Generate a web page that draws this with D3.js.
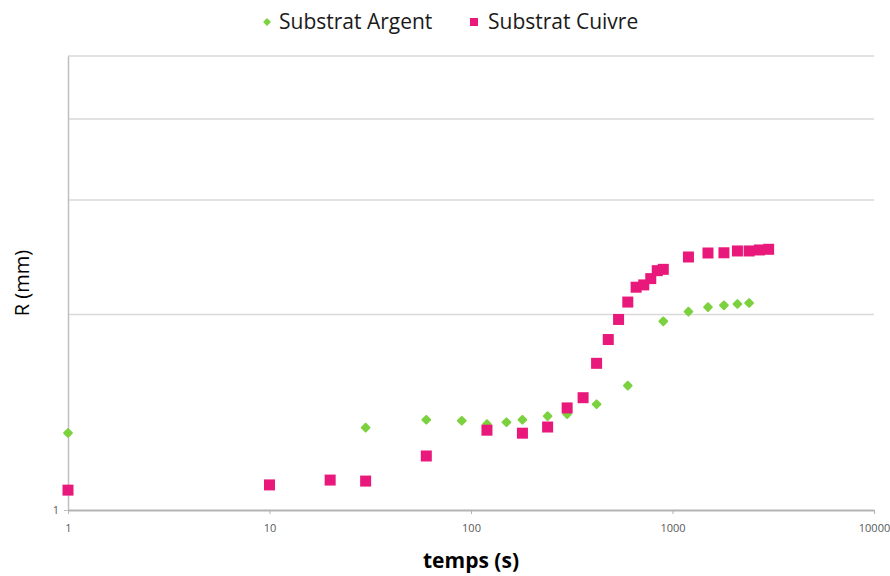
<!DOCTYPE html>
<html>
<head>
<meta charset="utf-8">
<script src="https://cdn.jsdelivr.net/npm/d3@7"></script>
<style>
  body { margin: 0; background: #fff; }
  text { font-family: "Open Sans", "Liberation Sans", sans-serif; }
</style>
</head>
<body>
<svg id="chart"></svg>
<script>
// temps (s) et R (mm)
const argentTemps = [1, 30, 60, 90, 120, 150, 180, 240, 300, 420, 600, 900, 1200, 1500, 1800, 2100, 2400];
const argentR = [1.314, 1.339, 1.377, 1.372, 1.356, 1.365, 1.377, 1.395, 1.405, 1.455, 1.554, 1.952, 2.020, 2.053, 2.066, 2.076, 2.083];

const cuivreTemps = [1, 10, 20, 30, 60, 120, 180, 240, 300, 360, 420, 480, 540, 600, 660, 720, 780, 840, 900, 1200, 1500, 1800, 2100, 2400, 2700, 3000];
const cuivreR = [1.073, 1.093, 1.112, 1.108, 1.211, 1.327, 1.313, 1.342, 1.436, 1.489, 1.682, 1.830, 1.965, 2.090, 2.203, 2.221, 2.271, 2.336, 2.347, 2.452, 2.487, 2.489, 2.505, 2.505, 2.514, 2.520];

const xTicks = [1, 10, 100, 1000, 10000];
const yGrid = [2, 3, 4, 5];
const yTicks = [1];

const width = 890, height = 576;
const margin = {top: 56, right: 16, bottom: 66, left: 68};

const svg = d3.select('#chart')
  .attr('width', width)
  .attr('height', height);

const xscale = d3.scaleLog().domain([1, 10000]).range([margin.left, width - margin.right]);
const yscale = d3.scaleLog().domain([1, 5]).range([height - margin.bottom, margin.top]);

// grille horizontale
svg.append('g')
  .selectAll('line')
  .data(yGrid)
  .join('line')
  .attr('x1', margin.left)
  .attr('x2', width - margin.right)
  .attr('y1', d => yscale(d))
  .attr('y2', d => yscale(d))
  .attr('stroke', '#d9d9d9')
  .attr('stroke-width', 1.5);

// axe vertical
const yaxis = d3.axisLeft(yscale).tickValues(yTicks).tickFormat(d3.format('d')).tickSize(4).tickSizeOuter(0);
const yaxis_group = svg.append('g')
  .attr('transform', `translate(${margin.left}, 0)`)
  .call(yaxis);
yaxis_group.select('.domain').attr('stroke', '#bfbfbf').attr('stroke-width', 1.5);
yaxis_group.selectAll('.tick line').attr('stroke', '#bfbfbf');
yaxis_group.selectAll('.tick text')
  .attr('fill', '#595959')
  .style('font-size', '11px')
  .attr('x', -9);

// axe horizontal
const xaxis = d3.axisBottom(xscale).tickValues(xTicks).tickFormat(d3.format('d')).tickSize(4).tickSizeOuter(0);
const xaxis_group = svg.append('g')
  .attr('transform', `translate(0, ${height - margin.bottom})`)
  .call(xaxis);
xaxis_group.select('.domain').attr('stroke', '#b3b3b3').attr('stroke-width', 2);
xaxis_group.selectAll('.tick line').attr('stroke', '#b3b3b3');
xaxis_group.selectAll('.tick text')
  .attr('fill', '#595959')
  .attr('y', 14)
  .style('font-size', '11px');

// titres des axes
svg.append('text')
  .attr('x', 471)
  .attr('y', 568)
  .attr('text-anchor', 'middle')
  .style('font-size', '21px')
  .style('font-weight', 'bold')
  .attr('fill', '#000')
  .text('temps (s)');

svg.append('text')
  .attr('transform', 'translate(29, 283) rotate(-90)')
  .attr('text-anchor', 'middle')
  .style('font-size', '20px')
  .attr('fill', '#000')
  .text('R (mm)');

// points
const argent = argentTemps.map((t, i) => ({t: t, r: argentR[i]}));
const cuivre = cuivreTemps.map((t, i) => ({t: t, r: cuivreR[i]}));

const diamond = d3.symbol().type(d3.symbolDiamond2).size(38);

svg.append('g')
  .selectAll('path')
  .data(argent)
  .join('path')
  .attr('d', diamond)
  .attr('transform', d => `translate(${xscale(d.t)}, ${yscale(d.r)})`)
  .attr('fill', '#7cd13f')
  .attr('stroke', '#7cd13f')
  .attr('stroke-width', 2)
  .attr('stroke-linejoin', 'round');

const sq = 11;
svg.append('g')
  .selectAll('rect')
  .data(cuivre)
  .join('rect')
  .attr('x', d => xscale(d.t) - sq / 2)
  .attr('y', d => yscale(d.r) - sq / 2)
  .attr('width', sq)
  .attr('height', sq)
  .attr('fill', '#e8197a');

// légende
const legend = svg.append('g');
legend.append('path')
  .attr('d', d3.symbol().type(d3.symbolDiamond2).size(22))
  .attr('transform', 'translate(267, 22)')
  .attr('fill', '#7cd13f')
  .attr('stroke', '#7cd13f')
  .attr('stroke-width', 1.5)
  .attr('stroke-linejoin', 'round');
legend.append('text')
  .attr('x', 279)
  .attr('y', 29)
  .style('font-size', '21px')
  .attr('fill', '#1a1a1a')
  .text('Substrat Argent');
legend.append('rect')
  .attr('x', 470)
  .attr('y', 18)
  .attr('width', 8)
  .attr('height', 8)
  .attr('fill', '#e8197a');
legend.append('text')
  .attr('x', 488)
  .attr('y', 29)
  .style('font-size', '21px')
  .attr('fill', '#1a1a1a')
  .text('Substrat Cuivre');
</script>
</body>
</html>
